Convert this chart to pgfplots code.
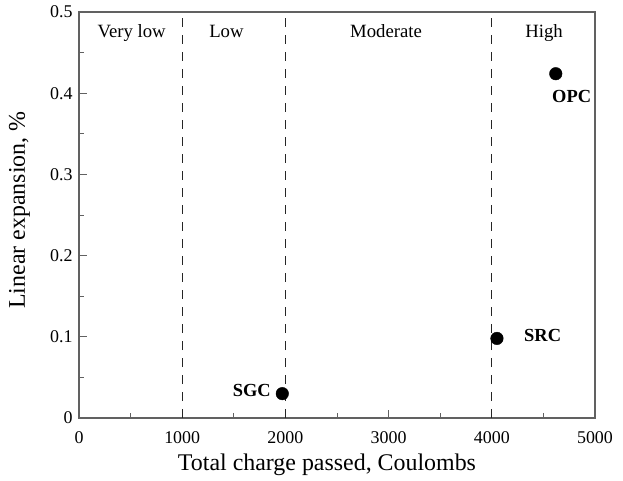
\documentclass[border=0pt]{standalone}
\usepackage{pgfplots}
\pgfplotsset{compat=1.18}
\usepackage{fontspec}
\setmainfont{Liberation Serif}
\begin{document}
\begin{tikzpicture}[x=1bp,y=1bp]
\useasboundingbox (-79bp,-63bp) rectangle (544bp,418bp);
\begin{axis}[
  at={(0,0)}, anchor=south west,
  scale only axis,
  width=516bp, height=406bp,
  xmin=0, xmax=5000, ymin=0, ymax=0.5,
  xtick={0,1000,...,5000},
  ytick={0,0.1,...,0.5},
  yticklabels={0,0.1,0.2,0.3,0.4,0.5},
  minor x tick num=1, minor y tick num=1,
  tick align=inside,
  xtick pos=bottom, ytick pos=left,
  major tick length=8bp, minor tick length=5bp,
  axis line style={draw=black!62, line width=1.1pt},
  every tick/.style={black!62, line width=1pt},
  /pgf/number format/1000 sep={},
  /pgf/number format/assume math mode=true,
  tick label style={font=\fontsize{18}{20}\selectfont},
  xticklabel style={yshift=-10bp},
  yticklabel style={xshift=-3bp},
  label style={font=\fontsize{24}{27}\selectfont},
  xlabel={Total charge passed, Coulombs},
  ylabel={Linear expansion, \%},
  xlabel style={at={(axis description cs:0.5,0)}, anchor=base, yshift=-52bp, xshift=-10bp},
  ylabel style={at={(axis description cs:0,0.512)}, anchor=base, yshift=54bp},
  clip=false,
]
\addplot[black!85, dash pattern=on 9bp off 8bp, line width=0.9pt] coordinates {(1000,0) (1000,0.5)};
\addplot[black!85, dash pattern=on 9bp off 8bp, line width=0.9pt] coordinates {(2000,0) (2000,0.5)};
\addplot[black!85, dash pattern=on 9bp off 8bp, line width=0.9pt] coordinates {(4000,0) (4000,0.5)};
\addplot[only marks, mark=*, mark size=6.3bp, black] coordinates {(1970,0.030) (4050,0.098) (4620,0.424)};
\node[font=\fontsize{18.8}{21}\selectfont, anchor=base] at (axis cs:510,0.469) {Very low};
\node[font=\fontsize{18.8}{21}\selectfont, anchor=base] at (axis cs:1429,0.469) {Low};
\node[font=\fontsize{18.8}{21}\selectfont, anchor=base] at (axis cs:2975,0.468) {Moderate};
\node[font=\fontsize{18.8}{21}\selectfont, anchor=base] at (axis cs:4506,0.469) {High};
\node[font=\bfseries\fontsize{18.5}{21}\selectfont, anchor=base east, inner sep=0pt] at (axis cs:1860,0.026) {SGC};
\node[font=\bfseries\fontsize{18.5}{21}\selectfont, anchor=base west, inner sep=0pt] at (axis cs:4312,0.094) {SRC};
\node[font=\bfseries\fontsize{18.5}{21}\selectfont, anchor=base west, inner sep=0pt] at (axis cs:4583,0.389) {OPC};
\end{axis}
\end{tikzpicture}
\end{document}
